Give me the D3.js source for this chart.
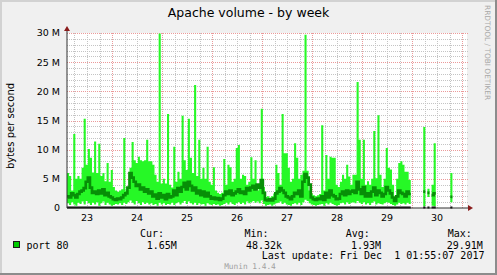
<!DOCTYPE html>
<html><head><meta charset="utf-8">
<script src="https://cdn.jsdelivr.net/npm/d3@7"></script>
<style>
html,body{margin:0;padding:0;background:#f0f0f0;}
svg{display:block;}
text{white-space:pre;}
</style></head><body>
<svg id="chart" width="497" height="275"></svg>
<script>
// ---------- data ----------
const title = "Apache volume - by week";
const yLabel = "bytes per second";
const startUTC = Date.UTC(2017, 10, 23, 2, 24);   // left edge of the plot
const spanHours = 192;                            // 8 days shown
const stepHours = 1;                              // one value per hour
// maximum (bright band top), in M bytes/s
const maxM = [
 6.0,5.5,3.0,12.7,5.0,5.5,5.0,6.9,15.3,7.4,
 10.1,8.6,6.1,11.4,6.0,11.0,5.5,6.0,4.6,7.7,
 4.5,6.5,3.6,3.0,2.8,3.0,3.2,12.0,3.0,3.2,
 6.9,11.3,8.2,7.7,8.8,8.2,8.0,8.2,11.7,8.0,
 8.0,7.4,5.7,4.5,29.91,4.2,5.0,4.2,16.1,4.0,
 3.5,10.5,4.5,6.2,5.0,15.8,8.2,6.5,15.3,8.6,
 6.0,21.1,5.5,11.7,5.0,6.9,5.0,10.5,4.5,4.0,
 7.0,3.0,2.6,2.4,2.6,8.4,4.0,7.4,7.0,4.5,
 5.0,10.3,10.8,5.0,5.7,5.5,4.0,4.5,8.7,5.0,
 8.2,3.0,4.0,17.0,3.6,1.9,2.0,1.8,2.0,2.5,
 7.4,6.0,4.0,16.1,9.4,9.4,6.9,4.5,5.0,11.1,
 8.6,5.0,5.7,6.4,29.7,6.4,3.0,2.5,2.2,2.0,
 2.2,2.4,14.2,3.0,9.1,5.0,8.8,8.6,8.6,4.0,
 3.6,4.5,5.7,5.0,7.4,5.4,4.0,5.7,5.7,21.6,
 11.7,5.0,11.7,4.0,4.6,4.0,5.0,13.2,5.1,15.9,
 5.7,3.6,5.0,10.3,6.9,6.6,4.0,1.8,5.0,7.7,
 8.0,7.4,6.2,6.2,4.8,null,null,null,null,null,
 null,13.9,null,3.3,null,4.0,11.1,null,null,null,
 null,null,null,null,6.0
];
// average (dark line), in M bytes/s
const avgM = [
 2.0,1.8,2.5,2.2,1.8,2.4,2.8,3.0,3.4,4.5,
 5.2,3.5,2.6,2.8,2.4,3.0,2.5,3.2,2.2,2.6,
 2.0,1.8,1.5,1.4,1.6,1.5,1.8,2.2,2.5,3.5,
 6.0,5.2,4.5,3.8,4.0,3.2,3.5,2.8,3.2,2.5,
 2.8,2.0,2.3,1.6,2.5,1.8,2.2,1.5,2.4,1.8,
 2.0,3.0,2.2,3.4,2.8,3.6,4.3,3.2,4.5,3.8,
 3.0,3.5,2.5,3.0,2.2,2.8,2.0,2.6,2.0,1.6,
 1.8,1.5,1.7,1.4,1.6,2.2,2.8,2.4,3.0,2.2,
 2.5,2.8,3.2,2.6,2.8,2.4,3.4,3.0,3.5,3.8,
 3.2,4.0,3.5,4.8,2.6,1.4,1.3,1.5,1.3,1.6,
 2.5,2.8,3.4,3.0,2.6,2.0,1.8,1.5,2.0,2.6,
 2.4,3.0,2.0,4.5,5.8,5.2,4.0,1.8,1.5,1.4,
 1.6,1.5,2.0,1.4,2.6,1.8,3.0,2.2,2.0,1.5,
 1.6,2.4,2.8,2.2,3.0,2.4,2.8,3.0,2.6,4.5,
 3.2,2.4,3.6,2.0,2.5,2.0,2.8,3.5,2.2,3.0,
 2.6,2.0,2.4,3.6,3.0,2.5,1.8,1.2,2.0,3.0,
 2.6,2.4,2.0,2.8,2.4,null,null,null,null,null,
 null,2.8,null,2.6,null,2.2,2.5,null,null,null,
 null,null,null,null,1.9
];
// minimum (bright band bottom), in M bytes/s
const minM = [
 0.8,0.5,1.0,0.6,0.4,0.9,0.7,1.1,0.6,1.2,
 0.8,0.5,0.9,0.6,1.0,0.4,0.8,1.1,0.5,0.9,
 0.6,0.4,0.5,0.7,0.6,0.8,0.5,0.9,0.7,1.0,
 1.3,0.9,0.6,1.2,0.8,0.5,1.0,0.7,0.9,0.6,
 0.8,0.5,0.7,0.4,0.9,0.6,0.8,0.5,0.7,0.6,
 0.9,0.5,0.8,1.0,0.6,0.9,1.2,0.7,1.1,0.8,
 0.6,0.9,0.5,0.8,0.6,0.7,0.4,0.8,0.6,0.5,
 0.7,0.5,0.6,0.4,0.5,0.7,0.9,0.6,1.0,0.7,
 0.5,0.8,1.0,0.7,0.9,0.6,1.1,0.8,1.0,1.2,
 0.9,1.1,0.8,1.3,0.7,0.4,0.5,0.6,0.4,0.6,
 0.8,0.9,1.1,0.7,0.9,0.6,0.5,0.4,0.7,0.8,
 0.6,0.9,0.5,1.0,1.4,1.2,0.8,0.6,0.5,0.4,
 0.5,0.6,0.7,0.4,0.8,0.6,0.9,0.7,0.5,0.4,
 0.5,0.8,0.9,0.6,1.0,0.7,0.9,1.0,0.8,1.2,
 0.9,0.7,1.0,0.6,0.8,0.5,0.9,1.1,0.6,0.8,
 0.7,0.6,0.8,1.0,0.9,0.7,0.5,0.4,0.6,0.9,
 0.7,0.8,0.6,0.9,0.7,null,null,null,null,null,
 null,0.3,null,1.9,null,0.4,0.3,null,null,null,
 null,null,null,null,1.0
];
const yTickValues = [0, 5, 10, 15, 20, 25, 30];          // M
const yTickLabels = ["0", "5 M", "10 M", "15 M", "20 M", "25 M", "30 M"];
const dayLabels = ["23", "24", "25", "26", "27", "28", "29", "30"];
const legendName = "port 80";
const statHeads = ["Cur:", "Min:", "Avg:", "Max:"];
const statValues = ["1.65M", "48.32k", "1.93M", "29.91M"];
const lastUpdate = "Last update: Fri Dec  1 01:55:07 2017";
const sideText = "RRDTOOL / TOBI OETIKER";
const watermark = "Munin 1.4.4";

// ---------- layout ----------
const W = 497, H = 275;
const L = 67, R = 467, T = 33, B = 208;
const svg = d3.select("#chart");
const HOUR = 3600e3;
const t0 = new Date(startUTC), t1 = new Date(startUTC + spanHours * HOUR);
const x = d3.scaleUtc().domain([t0, t1]).range([L, R]);
const y = d3.scaleLinear().domain([0, 30e6]).range([B, T]);

// background + shaded border
svg.append("rect").attr("width", W).attr("height", H).attr("fill", "#f0f0f0");
svg.append("rect").attr("x", 0).attr("y", 0).attr("width", W).attr("height", 2).attr("fill", "#d2d2d2");
svg.append("rect").attr("x", 0).attr("y", 0).attr("width", 2).attr("height", H).attr("fill", "#d2d2d2");
svg.append("rect").attr("x", 0).attr("y", H - 2).attr("width", W).attr("height", 2).attr("fill", "#8c8c8c");
svg.append("rect").attr("x", W - 2).attr("y", 0).attr("width", 2).attr("height", H).attr("fill", "#8c8c8c");

// canvas
svg.append("rect").attr("x", L).attr("y", T).attr("width", R - L).attr("height", B - T).attr("fill", "#ffffff");

// grid
const grid = svg.append("g").attr("fill", "none").attr("stroke-width", 1).attr("stroke-dasharray", "1,1");
const minorV = d3.utcHour.every(6).range(t0, t1).filter(d => d.getUTCHours() !== 0);
const majorV = d3.utcDay.range(t0, t1);
grid.selectAll(".mv").data(minorV).join("line")
  .attr("x1", d => Math.round(x(d)) + 0.5).attr("x2", d => Math.round(x(d)) + 0.5)
  .attr("y1", T).attr("y2", B).attr("stroke", "#c4c4c4");
const minorH = d3.range(1, 30).filter(v => v % 5 !== 0);
grid.selectAll(".mh").data(minorH).join("line")
  .attr("x1", L).attr("x2", R + 1)
  .attr("y1", d => Math.round(y(d * 1e6)) + 0.5).attr("y2", d => Math.round(y(d * 1e6)) + 0.5)
  .attr("stroke", "#c4c4c4");
grid.selectAll(".Mv").data(majorV).join("line")
  .attr("x1", d => Math.round(x(d)) + 0.5).attr("x2", d => Math.round(x(d)) + 0.5)
  .attr("y1", T).attr("y2", B).attr("stroke", "#eb9a9a");
grid.selectAll(".Mh").data(yTickValues.filter(v => v > 0)).join("line")
  .attr("x1", L).attr("x2", R + 1)
  .attr("y1", d => Math.round(y(d * 1e6)) + 0.5).attr("y2", d => Math.round(y(d * 1e6)) + 0.5)
  .attr("stroke", "#eb9a9a");

// data
const pts = maxM.map((m, i) => ({
  t0: new Date(startUTC + i * stepHours * HOUR),
  t1: new Date(startUTC + (i + 1) * stepHours * HOUR),
  max: m == null ? null : m * 1e6,
  avg: avgM[i] == null ? null : avgM[i] * 1e6,
  min: minM[i] == null ? null : minM[i] * 1e6
}));

// step vertices shared by band and line
const stepPts = [];
pts.forEach(d => {
  stepPts.push({ t: d.t0, d });
  stepPts.push({ t: d.t1, d });
});

// min..max band as one stepped area
const band = d3.area().defined(p => p.d.max != null)
  .x(p => x(p.t)).y0(p => y(p.d.min)).y1(p => y(p.d.max));
svg.append("path").attr("d", band(stepPts)).attr("fill", "#26f826");

// avg as stepped line
const avgLine = d3.line().defined(p => p.d.avg != null).x(p => x(p.t)).y(p => y(p.d.avg));
svg.append("path").attr("d", avgLine(stepPts)).attr("fill", "none")
  .attr("stroke", "#078f07").attr("stroke-width", 2.7).attr("stroke-linejoin", "miter");

// black baseline under data
const base = d3.area().defined(p => p.d.max != null)
  .x(p => x(p.t)).y0(B + 0.5).y1(B - 1.5);
svg.append("path").attr("d", base(stepPts)).attr("fill", "#000");

// axes
svg.append("line").attr("x1", L).attr("x2", R + 2).attr("y1", B).attr("y2", B)
  .attr("stroke", "#303030").attr("stroke-width", 1);
svg.append("line").attr("x1", L).attr("x2", L).attr("y1", B).attr("y2", T - 3)
  .attr("stroke", "#303030").attr("stroke-width", 1);
svg.append("path").attr("d", `M${L - 3},${T - 2} L${L + 3},${T - 2} L${L},${T - 7} Z`).attr("fill", "#8a1c1c");
svg.append("path").attr("d", `M${R + 1},${B - 3} L${R + 1},${B + 3} L${R + 6},${B} Z`).attr("fill", "#8a1c1c");

// y tick labels
svg.append("g").selectAll("text").data(yTickValues).join("text")
  .attr("x", 60).attr("y", d => y(d * 1e6) + 3.4)
  .attr("text-anchor", "end").attr("font-family", "DejaVu Sans").attr("font-size", 9.5)
  .attr("fill", "#000").text((d, i) => yTickLabels[i]);

// x day labels (centered at noon)
svg.append("g").selectAll("text").data(dayLabels).join("text")
  .attr("x", d => x(new Date(Date.UTC(2017, 10, +d, 12))))
  .attr("y", 220.5).attr("text-anchor", "middle")
  .attr("font-family", "DejaVu Sans").attr("font-size", 9.5).attr("fill", "#000").text(d => d);

// title
svg.append("text").attr("x", 248.5).attr("y", 17.3).attr("text-anchor", "middle")
  .attr("font-family", "DejaVu Sans").attr("font-size", 12.5).attr("fill", "#000").text(title);

// y label
svg.append("text").attr("transform", "translate(13.5,126) rotate(-90)").attr("text-anchor", "middle")
  .attr("font-family", "DejaVu Sans").attr("font-size", 10).attr("fill", "#000").text(yLabel);

// side text
svg.append("text").attr("transform", "translate(484.5,5) rotate(90)").attr("text-anchor", "start")
  .attr("font-family", "DejaVu Sans").attr("font-size", 7.4).attr("fill", "#a8a8a8").text(sideText);

// legend
const mono = "DejaVu Sans Mono";
svg.append("rect").attr("x", 13.5).attr("y", 241.5).attr("width", 6).attr("height", 6)
  .attr("fill", "#00cc00").attr("stroke", "#1a1a1a").attr("stroke-width", 1);
svg.append("text").attr("x", 26.5).attr("y", 248.5).attr("font-family", mono).attr("font-size", 10)
  .attr("fill", "#000").text(legendName);
const headX = [140, 244.5, 345.7, 447.7];
const valX = [146.7, 246, 351, 446.7];
svg.append("g").selectAll("text").data(statHeads).join("text")
  .attr("x", (d, i) => headX[i]).attr("y", 237).attr("font-family", mono).attr("font-size", 10)
  .attr("fill", "#000").text(d => d);
svg.append("g").selectAll("text").data(statValues).join("text")
  .attr("x", (d, i) => valX[i]).attr("y", 248.5).attr("font-family", mono).attr("font-size", 10)
  .attr("fill", "#000").text(d => d);
svg.append("text").attr("x", 261.7).attr("y", 258.5).attr("font-family", mono).attr("font-size", 10)
  .attr("fill", "#000").text(lastUpdate);
svg.append("text").attr("x", 250).attr("y", 269).attr("text-anchor", "middle")
  .attr("font-family", mono).attr("font-size", 7.8).attr("fill", "#a0a0a0").text(watermark);
</script>
</body></html>
